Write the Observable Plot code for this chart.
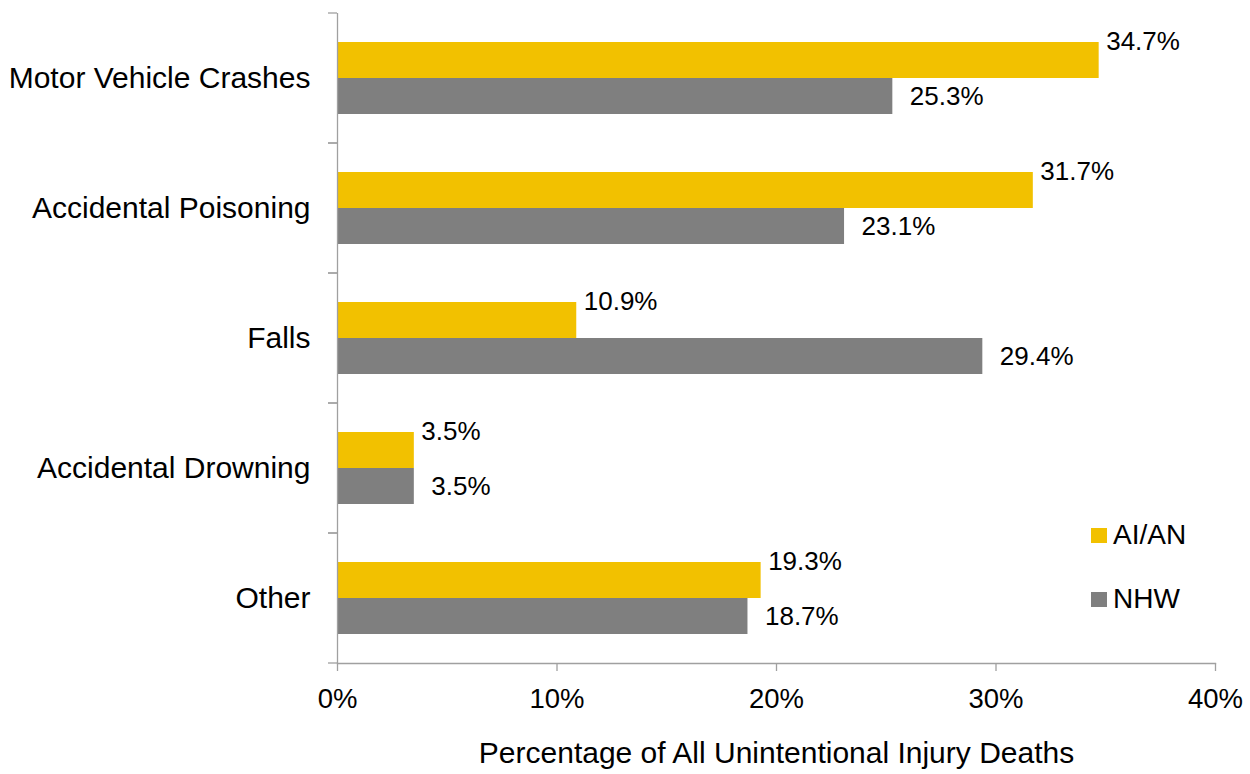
<!DOCTYPE html>
<html>
<head>
<meta charset="utf-8">
<script src="https://cdn.jsdelivr.net/npm/d3@7"></script>
<script src="https://cdn.jsdelivr.net/npm/@observablehq/plot@0.6"></script>
<style>
  html, body { margin: 0; padding: 0; background: #fff; }
  #wrap { position: relative; width: 1250px; height: 774px; font-family: "Liberation Sans", Arial, sans-serif; }
  #legend { position: absolute; left: 1091px; top: 520px; font-size: 28px; color: #000; }
  .item { display: flex; align-items: center; height: 30px; margin-bottom: 34px; }
  .sw { width: 16px; height: 15px; margin-right: 6px; }
</style>
</head>
<body>
<div id="wrap"><div id="legend"></div></div>
<script>
const categories = ["Motor Vehicle Crashes", "Accidental Poisoning", "Falls", "Accidental Drowning", "Other"];
const seriesNames = ["AI/AN", "NHW"];
const aianValues = [34.7, 31.7, 10.9, 3.5, 19.3];
const nhwValues = [25.3, 23.1, 29.4, 3.5, 18.7];
const xTicks = [0, 10, 20, 30, 40];
const seriesColors = ["#F2C100", "#7F7F7F"];
const axisTitle = "Percentage of All Unintentional Injury Deaths";

const rows = categories.flatMap((c, i) => [
  {category: c, series: seriesNames[0], value: aianValues[i]},
  {category: c, series: seriesNames[1], value: nhwValues[i]}
]);

const axisColor = "#A0A0A0";
const fmt = d => d.toFixed(1) + "%";

// boundary ticks on the category axis (Excel-style, between categories)
const boundaryTicks = (index, scales, values, dimensions) => {
  const x0 = scales.x(0);
  const {marginTop, marginBottom, height} = dimensions;
  const g = d3.create("svg:g").attr("stroke", axisColor).attr("stroke-width", 1.3);
  for (const y of [marginTop, height - marginBottom]) {
    g.append("line").attr("x1", x0 - 9).attr("x2", x0).attr("y1", y).attr("y2", y);
  }
  return g.node();
};

const chart = Plot.plot({
  width: 1250,
  height: 774,
  marginLeft: 337,
  marginRight: 35,
  marginTop: 11,
  marginBottom: 109,
  style: {fontFamily: "'Liberation Sans', Arial, sans-serif", background: "white", color: "#000", overflow: "visible"},
  facet: {marginTop: 0, marginRight: 0, marginBottom: 0, marginLeft: 0},
  x: {domain: [0, 40]},
  y: {domain: seriesNames, paddingInner: 0, paddingOuter: 0.77, axis: null},
  fy: {domain: categories, padding: 0},
  color: {domain: seriesNames, range: seriesColors},
  marks: [
    Plot.barX(rows, {fy: "category", y: "series", x: "value", fill: "series"}),
    Plot.ruleX([0], {stroke: axisColor, strokeWidth: 1.3}),
    boundaryTicks,
    Plot.frame({anchor: "bottom", facetAnchor: "bottom", stroke: axisColor, strokeWidth: 1.3}),
    Plot.axisX({ticks: xTicks, tickFormat: d => d + "%", tickSize: 8, tickPadding: 17, fontSize: 27.5, stroke: axisColor, strokeWidth: 1.3, label: null, facetAnchor: "bottom"}),
    Plot.text([axisTitle], {frameAnchor: "bottom", dy: 99, fontSize: 30, fill: "#000", facetAnchor: "bottom"}),
    Plot.axisFy({tickSize: 0, tickPadding: 27, fontSize: 30, label: null, anchor: "left"}),
    Plot.text(rows.filter(d => d.series === seriesNames[0]), {fy: "category", y: "series", x: "value", text: d => fmt(d.value), textAnchor: "start", dx: 7, dy: -19, fontSize: 26, fill: "#000"}),
    Plot.text(rows.filter(d => d.series === seriesNames[1]), {fy: "category", y: "series", x: "value", text: d => fmt(d.value), textAnchor: "start", dx: 17, fontSize: 26, fill: "#000"})
  ]
});

const wrap = document.getElementById("wrap");
wrap.insertBefore(chart, wrap.firstChild);

const legend = document.getElementById("legend");
seriesNames.forEach((s, i) => {
  const item = document.createElement("div");
  item.className = "item";
  const sw = document.createElement("div");
  sw.className = "sw";
  sw.style.background = seriesColors[i];
  const t = document.createElement("span");
  t.textContent = s;
  item.appendChild(sw);
  item.appendChild(t);
  legend.appendChild(item);
});
</script>
</body>
</html>
